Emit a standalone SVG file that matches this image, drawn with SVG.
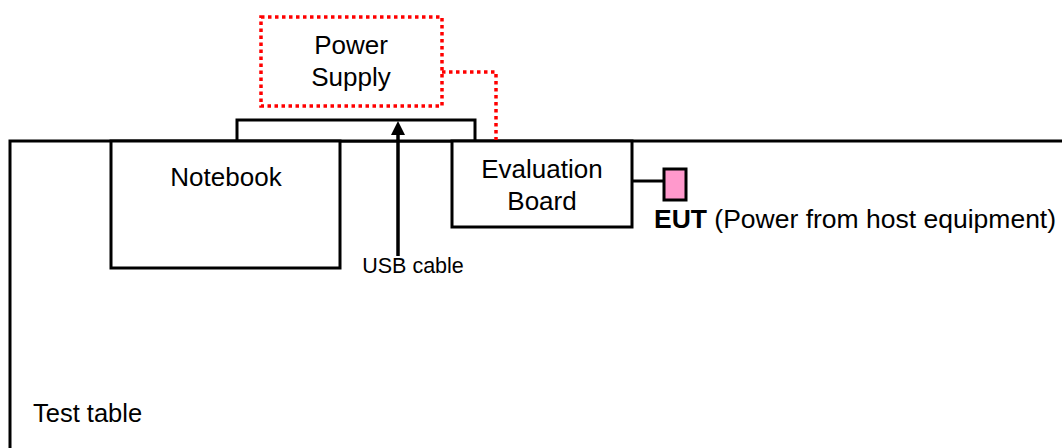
<svg xmlns="http://www.w3.org/2000/svg" width="1062" height="448" viewBox="0 0 1062 448">
<defs>
<style>
.box{fill:#fff;stroke:#000;stroke-width:3}
.lbl{font-family:"Liberation Sans",Arial,sans-serif;font-size:26px;fill:#000}
.dot{fill:none;stroke:#ff0000;stroke-width:3.5;stroke-dasharray:3.5,3.5}
</style>
<marker id="ah" viewBox="0 0 14 14" refX="0" refY="7" markerWidth="14" markerHeight="14" markerUnits="userSpaceOnUse" orient="auto">
<path d="M0,0 L14,7 L0,14 Z" fill="#000"/>
</marker>
</defs>
<rect width="1062" height="448" fill="#fff"/>
<g id="table">
<path d="M10,448 L10,141 L1062,141" fill="none" stroke="#000" stroke-width="3"/>
<text class="lbl" x="33" y="422" style="font-size:25.5px">Test table</text>
</g>
<g id="lid">
<rect class="box" x="237" y="120" width="238" height="21"/>
</g>
<g id="notebook">
<rect class="box" x="111" y="141" width="229" height="127"/>
<text class="lbl" x="226" y="186" text-anchor="middle">Notebook</text>
</g>
<g id="power-supply">
<rect x="261" y="17" width="181" height="89" fill="#fff" class="dot"/>
<text class="lbl" x="351" y="54" text-anchor="middle">Power</text>
<text class="lbl" x="351" y="86" text-anchor="middle">Supply</text>
</g>
<g id="eval-board">
<rect class="box" x="452" y="141" width="180" height="86"/>
<text class="lbl" x="542" y="178" text-anchor="middle">Evaluation</text>
<text class="lbl" x="542" y="210" text-anchor="middle">Board</text>
</g>
<g id="eut">
<rect x="664" y="169" width="22" height="31" fill="#ff99cc" stroke="#000" stroke-width="3"/>
<text class="lbl" x="654" y="228" style="font-size:26.5px"><tspan font-weight="bold">EUT</tspan> (Power from host equipment)</text>
</g>
<g id="connectors">
<path class="dot" d="M442,72 L496,72 L496,140"/>
<line x1="398" y1="256" x2="398" y2="135" stroke="#000" stroke-width="3.5" marker-end="url(#ah)"/>
<text x="413" y="273" text-anchor="middle" font-family="Liberation Sans,Arial,sans-serif" font-size="21.5">USB cable</text>
<line x1="632" y1="181" x2="664" y2="181" stroke="#000" stroke-width="3"/>
</g>
</svg>
